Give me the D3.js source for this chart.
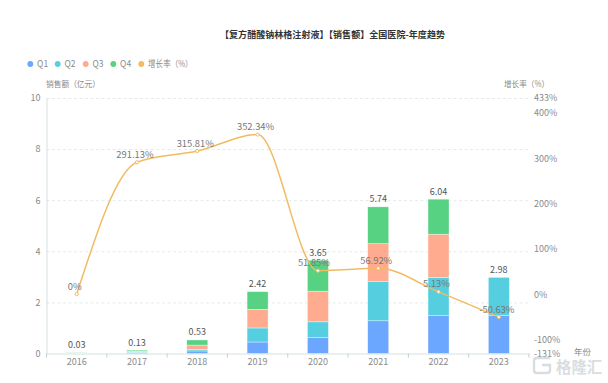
<!DOCTYPE html>
<html><head><meta charset="utf-8">
<script src="https://cdn.jsdelivr.net/npm/d3@7/dist/d3.min.js"></script>
<style>html,body{margin:0;background:#fff}svg{display:block}text{font-family:"Noto Sans CJK SC","Noto Sans",sans-serif}</style>
</head><body><svg id="c" width="608" height="383"></svg>
<script>
const years=["2016","2017","2018","2019","2020","2021","2022","2023"];
const q1=[0.01,0.03,0.10,0.45,0.62,1.28,1.48,1.48];
const q2=[0.005,0.03,0.06,0.55,0.62,1.53,1.49,1.50];
const q3=[0.005,0.03,0.17,0.73,1.20,1.49,1.70,0];
const q4=[0.01,0.04,0.20,0.69,1.21,1.44,1.37,0];
const totals=["0.03","0.13","0.53","2.42","3.65","5.74","6.04","2.98"];
const growth=[0,291.13,315.81,352.34,51.85,56.92,5.13,-50.63];
const growthLabels=["0%","291.13%","315.81%","352.34%","51.85%","56.92%","5.13%","-50.63%"];
const leftTicks=[0,2,4,6,8,10];
const rightTicks=[-131,-100,0,100,200,300,400,433];
const seriesNames=["Q1","Q2","Q3","Q4","增长率（%）"];
const colors=["#6ba6ff","#55cfdf","#ffab8f","#57d182","#f2bb62"];

const svg=d3.select("#c");
const L=46.5,R=529,T=98,B=353.5;
const x=d3.scaleBand().domain(years).range([L,R]);
const y=d3.scaleLinear().domain([0,10]).range([B,T]);
const yr=d3.scaleLinear().domain([-131,433]).range([B,T]);
const tc="#8a8a8a";

svg.append("text").attr("x",220).attr("y",38).attr("font-size",9.2).attr("font-weight",700).attr("fill","#333")
 .attr("textLength",225).attr("lengthAdjust","spacingAndGlyphs").text("【复方醋酸钠林格注射液】【销售额】全国医院-年度趋势");

// gridlines
svg.append("g").selectAll("line").data(leftTicks.slice(1)).join("line")
 .attr("x1",L).attr("x2",R).attr("y1",d=>y(d)+.5).attr("y2",d=>y(d)+.5)
 .attr("stroke","#e3ebeb").attr("stroke-dasharray","3 2.5");

// axes
const axL=svg.append("g").attr("transform",`translate(${L},0)`).call(d3.axisLeft(y).tickValues(leftTicks).tickSize(0).tickPadding(6));
axL.select(".domain").attr("stroke","#d5e0e0");
const axR=svg.append("g").attr("transform",`translate(${R},0)`).call(d3.axisRight(yr).tickValues(rightTicks).tickFormat(d=>d+"%").tickSize(0).tickPadding(5));
axR.select(".domain").remove();
const axB=svg.append("g").attr("transform",`translate(0,${B})`).call(d3.axisBottom(x).tickSize(0).tickPadding(5));
axB.select(".domain").attr("stroke","#d5e0e0");
svg.append("g").selectAll("line").data(years.concat(["end"])).join("line")
 .attr("x1",(d,i)=>i<8?x(d):R).attr("x2",(d,i)=>i<8?x(d):R).attr("y1",B).attr("y2",B+4).attr("stroke","#c3cfcf");
svg.selectAll(".tick text").attr("font-size",9).attr("fill",tc);

// stacked bars
const rows=years.map((yy,i)=>({year:yy,q1:q1[i],q2:q2[i],q3:q3[i],q4:q4[i]}));
const stack=d3.stack().keys(["q1","q2","q3","q4"])(rows);
const bw=21;
svg.append("g").selectAll("g").data(stack).join("g").attr("fill",(d,i)=>colors[i])
 .selectAll("rect").data(d=>d).join("rect")
 .attr("x",d=>x(d.data.year)+x.bandwidth()/2-bw/2).attr("width",bw)
 .attr("y",d=>y(d[1])).attr("height",d=>y(d[0])-y(d[1]))
 .attr("stroke","#fff").attr("stroke-opacity",.6).attr("stroke-width",.6);

// total labels
svg.append("g").selectAll("text").data(years).join("text")
 .attr("x",d=>x(d)+x.bandwidth()/2)
 .attr("y",(d,i)=>y(+totals[i])-4.5)
 .attr("text-anchor","middle").attr("font-size",9).attr("fill","#555")
 .text((d,i)=>totals[i]);

// line
const line=d3.line().x((d,i)=>x(years[i])+x.bandwidth()/2).y(d=>yr(d)).curve(d3.curveMonotoneX);
svg.append("path").datum(growth).attr("d",line).attr("fill","none").attr("stroke",colors[4]).attr("stroke-width",1.5);
svg.append("g").selectAll("circle").data(growth).join("circle")
 .attr("cx",(d,i)=>x(years[i])+x.bandwidth()/2).attr("cy",d=>yr(d)).attr("r",1.6)
 .attr("fill","#fff").attr("stroke",colors[4]).attr("stroke-width",1);
svg.append("g").selectAll("text").data(growth).join("text")
 .attr("x",(d,i)=>x(years[i])+x.bandwidth()/2-(i==4?4:2))
 .attr("y",d=>yr(d)-4.5)
 .attr("text-anchor","middle").attr("font-size",9.4).attr("fill","#777")
 .text((d,i)=>growthLabels[i]);

// axis names
const an=[["销售额（亿元）",46,86.5,"start",54],["增长率（%）",504,86.5,"start",45],["年份",574,355,"start",17]];
svg.append("g").selectAll("text").data(an).join("text").attr("x",d=>d[1]).attr("y",d=>d[2]).attr("text-anchor",d=>d[3])
 .attr("font-size",8.5).attr("fill",tc).attr("textLength",d=>d[4]).attr("lengthAdjust","spacingAndGlyphs").text(d=>d[0]);

// legend
const lx=[30.3,57.7,85.7,113.3,141.3];
const lw=[11,11,11,11,44.5];
const lg=svg.append("g").selectAll("g").data(seriesNames).join("g").attr("transform",(d,i)=>`translate(${lx[i]},64)`);
lg.append("circle").attr("r",2.9).attr("fill",(d,i)=>colors[i]);
lg.append("text").attr("x",6.8).attr("y",3.1).attr("font-size",8.8).attr("fill",tc)
 .attr("textLength",(d,i)=>lw[i]).attr("lengthAdjust","spacingAndGlyphs").text(d=>d);

// watermark
svg.append("text").attr("x",556).attr("y",373).attr("font-size",15.4).attr("font-weight",700).attr("fill","#d9dde1").text("格隆汇");
svg.append("path").attr("d","M550 358 H537 Q534 358 534 361 V370 Q534 373 537 373 H547 Q550 373 550 370 V365 H542")
 .attr("fill","none").attr("stroke","#d9dde1").attr("stroke-width",2.4);
</script></body></html>
